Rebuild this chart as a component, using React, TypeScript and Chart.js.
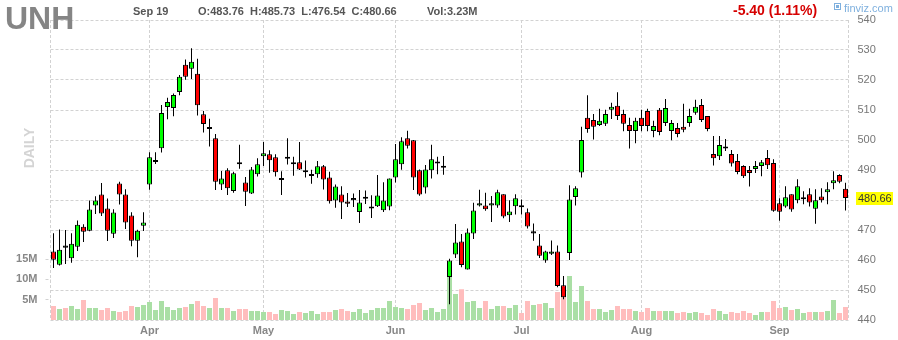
import React, { useEffect, useRef } from 'react';
import { Chart, registerables } from 'chart.js';

Chart.register(...registerables);

const ticker = 'UNH';
const timeframe = 'DAILY';

const dates = [
  '2023-03-10','2023-03-13','2023-03-14','2023-03-15','2023-03-16','2023-03-17','2023-03-20','2023-03-21','2023-03-22','2023-03-23','2023-03-24','2023-03-27','2023-03-28','2023-03-29','2023-03-30','2023-03-31',
  '2023-04-03','2023-04-04','2023-04-05','2023-04-06','2023-04-10','2023-04-11','2023-04-12','2023-04-13','2023-04-14','2023-04-17','2023-04-18','2023-04-19','2023-04-20','2023-04-21','2023-04-24','2023-04-25','2023-04-26','2023-04-27','2023-04-28',
  '2023-05-01','2023-05-02','2023-05-03','2023-05-04','2023-05-05','2023-05-08','2023-05-09','2023-05-10','2023-05-11','2023-05-12','2023-05-15','2023-05-16','2023-05-17','2023-05-18','2023-05-19','2023-05-22','2023-05-23','2023-05-24','2023-05-25','2023-05-26','2023-05-30','2023-05-31',
  '2023-06-01','2023-06-02','2023-06-05','2023-06-06','2023-06-07','2023-06-08','2023-06-09','2023-06-12','2023-06-13','2023-06-14','2023-06-15','2023-06-16','2023-06-20','2023-06-21','2023-06-22','2023-06-23','2023-06-26','2023-06-27','2023-06-28','2023-06-29','2023-06-30',
  '2023-07-03','2023-07-05','2023-07-06','2023-07-07','2023-07-10','2023-07-11','2023-07-12','2023-07-13','2023-07-14','2023-07-17','2023-07-18','2023-07-19','2023-07-20','2023-07-21','2023-07-24','2023-07-25','2023-07-26','2023-07-27','2023-07-28','2023-07-31',
  '2023-08-01','2023-08-02','2023-08-03','2023-08-04','2023-08-07','2023-08-08','2023-08-09','2023-08-10','2023-08-11','2023-08-14','2023-08-15','2023-08-16','2023-08-17','2023-08-18','2023-08-21','2023-08-22','2023-08-23','2023-08-24','2023-08-25','2023-08-28','2023-08-29','2023-08-30','2023-08-31',
  '2023-09-01','2023-09-05','2023-09-06','2023-09-07','2023-09-08','2023-09-11','2023-09-12','2023-09-13','2023-09-14','2023-09-15','2023-09-18','2023-09-19'
];

const opens = [
  462.85,458.38,464.45,460.62,464.42,471.12,469.78,478.16,481.85,477.15,468.77,485.53,481.85,474.8,466.43,471.45,
  485.2,493.0,497.27,511.0,510.67,516.0,525.09,523.75,522.07,508.55,503.63,500.62,485.2,489.9,482.97,492.57,485.87,482.18,488.55,
  494.58,495.25,494.25,486.98,494.1,491.9,492.57,489.22,487.99,488.55,491.23,487.54,479.84,481.85,479.5,480.28,476.04,480.73,477.49,477.93,476.6,477.8,
  487.54,491.9,500.62,499.95,489.9,484.2,489.9,492.5,491.1,454.3,461.8,466.15,456.8,468.8,478.2,478.2,478.2,478.2,481.9,474.9,477.9,
  477.9,475.9,469.2,464.8,459.8,462.1,462.8,451.6,462.35,481.0,489.2,507.4,506.7,505.0,505.4,510.1,511.4,508.7,505.0,503.0,
  507.4,509.7,503.0,510.1,505.7,503.0,504.0,504.4,505.7,509.1,511.7,508.0,495.3,494.6,497.5,495.3,493.0,491.3,490.0,490.3,491.3,494.0,492.3,
  478.9,477.8,481.9,479.9,480.6,481.9,477.1,481.2,482.6,485.6,488.3,483.76
];

const highs = [
  468.9,470.2,470.0,468.9,473.2,471.9,479.84,481.29,485.64,480.5,476.9,486.09,483.6,475.9,470.1,475.9,
  495.9,495.9,511.68,514.1,515.5,521.7,526.8,530.56,527.1,509.7,507.1,501.96,489.7,490.6,489.4,498.4,487.7,491.0,493.9,
  499.3,496.6,495.25,489.6,500.6,494.4,499.3,493.2,490.1,493.0,491.7,489.4,485.2,484.6,482.3,482.2,483.3,483.2,481.6,488.3,485.9,487.2,
  498.7,500.95,503.1,500.0,490.2,491.7,498.4,494.4,494.7,460.45,471.96,468.7,470.5,479.1,483.4,482.4,481.3,483.4,481.9,479.9,481.9,
  480.2,477.2,472.2,468.7,463.1,466.5,464.8,454.7,484.9,484.6,504.4,514.9,508.7,510.4,510.1,512.4,515.9,510.1,507.4,507.4,
  510.1,510.4,506.4,510.7,513.7,506.7,505.7,512.1,510.4,513.4,513.7,508.0,501.3,501.3,500.3,496.7,495.3,491.6,491.3,493.0,493.3,496.7,493.6,
  480.6,484.6,481.9,486.9,482.9,483.9,483.6,483.9,485.9,489.6,488.6,485.73
];

const lows = [
  457.3,458.2,458.7,459.05,462.96,465.98,469.6,475.37,474.7,466.3,467.3,478.5,470.34,464.6,460.95,469.67,
  483.4,492.0,495.8,506.9,507.9,514.9,520.1,520.3,508.2,502.5,497.8,483.3,483.3,481.7,482.4,490.45,478.0,482.0,487.8,
  491.3,489.1,487.8,481.7,491.8,488.1,490.0,487.5,485.4,487.4,483.5,478.8,477.4,473.7,477.7,477.7,472.35,478.7,474.0,477.7,476.04,476.6,
  485.8,490.1,497.2,483.3,481.4,482.2,487.2,488.6,488.4,445.25,460.7,457.6,456.8,467.0,477.8,476.4,472.7,477.4,473.9,472.7,475.2,
  475.2,470.5,466.4,460.7,459.1,461.7,450.95,446.9,460.0,478.2,487.5,502.4,500.2,504.7,504.7,507.0,506.7,502.9,497.2,498.9,
  502.9,502.9,500.9,501.6,504.7,499.9,500.9,502.6,504.4,508.4,506.0,502.9,491.5,493.3,496.3,491.2,488.6,487.3,484.5,489.0,487.9,490.3,476.1,
  473.1,477.4,476.1,478.9,478.6,477.8,472.1,479.2,478.6,483.6,485.6,476.54
];

const closes = [
  460.06,463.41,464.4,465.42,471.79,469.44,476.82,479.84,475.48,469.78,475.81,481.85,472.46,466.43,469.78,472.46,
  494.25,493.05,509.0,512.7,515.03,521.06,521.06,526.09,511.57,505.3,504.3,486.09,487.2,483.9,488.9,491.9,482.74,490.2,491.9,
  495.59,493.24,489.22,487.03,494.15,492.57,490.2,489.89,488.66,491.23,486.87,479.61,484.53,479.17,478.72,480.33,479.17,480.78,477.54,481.51,479.84,487.2,
  493.58,499.6,498.05,487.54,481.85,490.2,493.58,492.55,491.15,459.8,465.8,458.3,469.2,476.5,478.9,476.9,478.9,482.6,474.5,476.2,480.6,
  477.85,471.2,469.25,461.4,462.8,462.8,451.3,447.6,480.2,483.9,500.0,503.7,504.4,506.4,508.7,511.1,508.0,505.4,503.0,506.4,
  504.7,504.7,504.7,502.7,510.7,505.7,502.0,503.4,508.0,511.1,506.7,503.7,493.9,498.3,497.55,492.2,489.3,487.9,489.0,491.3,492.6,491.6,476.4,
  476.1,480.9,476.8,484.6,480.65,479.2,479.9,479.9,483.6,486.6,486.06,480.66
];

// volume in millions of shares
const volumes = [
  3.45,2.71,2.96,3.45,2.71,4.93,2.96,2.96,2.46,2.96,2.22,1.97,2.22,3.45,3.2,3.69,
  4.43,2.46,4.68,3.2,2.46,2.96,3.2,3.94,4.68,3.45,2.96,5.42,2.96,2.96,2.22,2.71,2.71,2.22,2.22,
  1.97,1.97,1.48,2.46,2.22,1.48,1.97,1.72,2.22,1.48,1.97,1.97,2.46,2.71,2.22,1.97,2.71,1.72,2.46,2.96,2.96,4.68,
  3.2,2.96,2.71,3.69,4.19,2.46,2.96,1.97,2.71,10.7,6.4,7.55,4.43,4.68,2.96,4.68,2.71,3.45,3.45,2.96,3.69,
  1.72,4.68,3.69,3.94,4.19,2.96,6.9,7.88,10.84,4.43,8.37,4.68,2.71,2.71,1.97,2.46,3.45,2.71,2.71,2.22,
  1.97,2.96,2.22,2.22,2.22,2.22,1.72,1.97,1.72,1.97,1.72,1.23,2.71,2.22,1.48,1.97,1.72,2.22,1.72,1.23,1.97,1.97,4.68,
  2.96,3.2,2.46,2.71,1.72,1.97,1.97,1.97,2.22,4.93,1.72,3.23
];

const priceMin = 440;
const priceMax = 540;
const priceStep = 10;
const volumeTicks = [5, 10, 15];
const volumeAxisMax = 73.9;
const monthNames = ['Jan','Feb','Mar','Apr','May','Jun','Jul','Aug','Sep','Oct','Nov','Dec'];

const FONT = '"Liberation Sans", Arial, Helvetica, sans-serif';
const GRID = '#d2d2d2';

export default function App() {
  const ref = useRef<HTMLCanvasElement>(null);

  useEffect(() => {
    document.body.style.margin = '0';
    const canvas = ref.current;
    if (!canvas) return;
    const n = dates.length;
    const isDoji = (i: number) => Math.abs(closes[i] - opens[i]) < 0.2;
    const bodies = opens.map((o, i) => (isDoji(i) ? [o - 0.35, o + 0.35] : [o, closes[i]]));
    const bodyColors = opens.map((o, i) => (isDoji(i) ? '#000000' : closes[i] > o ? '#00ff00' : '#ff0000'));
    const wicks = lows.map((l, i) => [l, highs[i]]);
    const volColors = opens.map((o, i) => (closes[i] >= o ? '#aadfa5' : '#ffbdbd'));
    const monthStart = dates.map((d, i) => i > 0 && d.slice(5, 7) !== dates[i - 1].slice(5, 7));

    const last = n - 1;
    const change = closes[last] - closes[last - 1];
    const pct = Math.abs(change / closes[last - 1]) * 100;
    const lastDate = new Date(dates[last] + 'T00:00:00');
    const dateText = monthNames[lastDate.getMonth()] + ' ' + lastDate.getDate();

    const overlay = {
      id: 'overlay',
      beforeDatasetsDraw(chart: any) {
        const { ctx, chartArea: a } = chart;
        ctx.save();
        ctx.strokeStyle = GRID;
        ctx.lineWidth = 1;
        ctx.setLineDash([3, 2]);
        [Math.floor(a.left) + 0.5, Math.floor(a.right) + 0.5].forEach((x) => {
          ctx.beginPath();
          ctx.moveTo(x, a.top);
          ctx.lineTo(x, a.bottom);
          ctx.stroke();
        });
        ctx.restore();
      },
      afterDraw(chart: any) {
        const { ctx } = chart;
        const y = chart.scales.y;
        ctx.save();
        ctx.textBaseline = 'alphabetic';
        ctx.textAlign = 'left';
        // ticker
        ctx.fillStyle = '#858585';
        ctx.font = 'bold 32px ' + FONT;
        ctx.fillText(ticker, 5, 29);
        // header
        ctx.fillStyle = '#555555';
        ctx.font = 'bold 11px ' + FONT;
        ctx.fillText(dateText, 133, 15);
        ctx.fillText(
          'O:' + opens[last].toFixed(2) + '  H:' + highs[last].toFixed(2) + '  L:' + lows[last].toFixed(2) + '  C:' + closes[last].toFixed(2),
          198, 15
        );
        ctx.fillText('Vol:' + volumes[last].toFixed(2) + 'M', 427, 15);
        ctx.fillStyle = change < 0 ? '#d60000' : '#00a000';
        ctx.font = 'bold 14px ' + FONT;
        ctx.fillText((change < 0 ? '-' : '+') + Math.abs(change).toFixed(2) + ' (' + pct.toFixed(2) + '%)', 733, 15);
        // finviz mark
        ctx.strokeStyle = '#7fb0de';
        ctx.fillStyle = '#7fb0de';
        ctx.lineWidth = 1;
        ctx.strokeRect(834.5, 3.5, 6, 6);
        ctx.fillRect(836, 5, 3, 3);
        ctx.font = '11px ' + FONT;
        ctx.fillText('finviz.com', 844, 12);
        // timeframe label
        ctx.save();
        ctx.translate(30, 148);
        ctx.rotate(-Math.PI / 2);
        ctx.textAlign = 'center';
        ctx.textBaseline = 'middle';
        ctx.fillStyle = '#d4d4d4';
        ctx.font = 'bold 14px ' + FONT;
        ctx.fillText(timeframe, 0, 0);
        ctx.restore();
        // last price box
        const py = y.getPixelForValue(closes[last]);
        ctx.fillStyle = '#ffff00';
        ctx.fillRect(856, Math.round(py) - 6, 37, 13);
        ctx.fillStyle = '#333333';
        ctx.font = '11px ' + FONT;
        ctx.textBaseline = 'middle';
        ctx.fillText(closes[last].toFixed(2), 858, Math.round(py) + 0.5);
        ctx.restore();
      },
    };

    const chart = new Chart(canvas, {
      type: 'bar',
      data: {
        labels: dates,
        datasets: [
          {
            label: 'Body',
            data: bodies as any,
            backgroundColor: bodyColors,
            borderColor: '#000000',
            borderWidth: 1,
            borderSkipped: false,
            barThickness: 5,
            grouped: false,
            inflateAmount: 0,
            yAxisID: 'y',
            order: 1,
          } as any,
          {
            label: 'Wick',
            data: wicks as any,
            backgroundColor: '#000000',
            borderWidth: 0,
            barThickness: 1,
            grouped: false,
            inflateAmount: 0,
            yAxisID: 'y',
            order: 2,
          } as any,
          {
            label: 'Volume',
            data: volumes,
            backgroundColor: volColors,
            borderWidth: 0,
            barThickness: 5,
            grouped: false,
            inflateAmount: 0,
            yAxisID: 'yVol',
            order: 3,
          } as any,
        ],
      },
      options: {
        animation: false,
        responsive: false,
        devicePixelRatio: 1,
        events: [],
        layout: { padding: { top: 20, left: 0, right: 0, bottom: 0 } },
        plugins: { legend: { display: false }, tooltip: { enabled: false }, title: { display: false } },
        scales: {
          x: {
            type: 'category',
            offset: true,
            grid: {
              offset: false,
              drawTicks: false,
              lineWidth: 1,
              color: (c: any) => (monthStart[c.index] ? GRID : 'rgba(0,0,0,0)'),
            },
            border: { display: false, dash: [3, 2] },
            ticks: {
              autoSkip: false,
              maxRotation: 0,
              padding: 4,
              color: '#888888',
              font: { family: FONT, size: 11, weight: 'bold' },
              callback: (_v: any, i: number) => {
                if (!monthStart[i]) return '';
                return monthNames[new Date(dates[i] + 'T00:00:00').getMonth()];
              },
            },
            afterFit: (s: any) => { s.height = 20; },
          },
          y: {
            type: 'linear',
            position: 'right',
            min: priceMin,
            max: priceMax,
            grid: { drawTicks: false, color: GRID, lineWidth: 1 },
            border: { display: false, dash: [3, 2] },
            ticks: {
              stepSize: priceStep,
              padding: 9,
              color: '#777777',
              font: { family: FONT, size: 11 },
              callback: (v: any) => (Math.round(v) === Math.round(closes[last]) && Math.abs(v - closes[last]) < 5 && v === 480 ? '' : String(v)),
            },
            afterFit: (s: any) => { s.width = 49.5; },
          },
          yVol: {
            type: 'linear',
            position: 'left',
            min: 0,
            max: volumeAxisMax,
            grid: {
              drawOnChartArea: false,
              drawTicks: true,
              tickLength: 5,
              tickColor: GRID,
              tickBorderDash: [3, 2],
            },
            border: { display: false },
            afterBuildTicks: (s: any) => { s.ticks = volumeTicks.map((v) => ({ value: v })); },
            ticks: {
              padding: 8,
              color: '#888888',
              font: { family: FONT, size: 11, weight: 'bold' },
              callback: (v: any) => v + 'M',
            },
            afterFit: (s: any) => { s.width = 50.5; },
          },
        },
      } as any,
      plugins: [overlay],
    });

    return () => chart.destroy();
  }, []);

  return (
    <div style={{ width: 898, height: 340, position: 'relative', background: '#ffffff' }}>
      <canvas ref={ref} width={898} height={340} style={{ display: 'block' }} />
    </div>
  );
}
